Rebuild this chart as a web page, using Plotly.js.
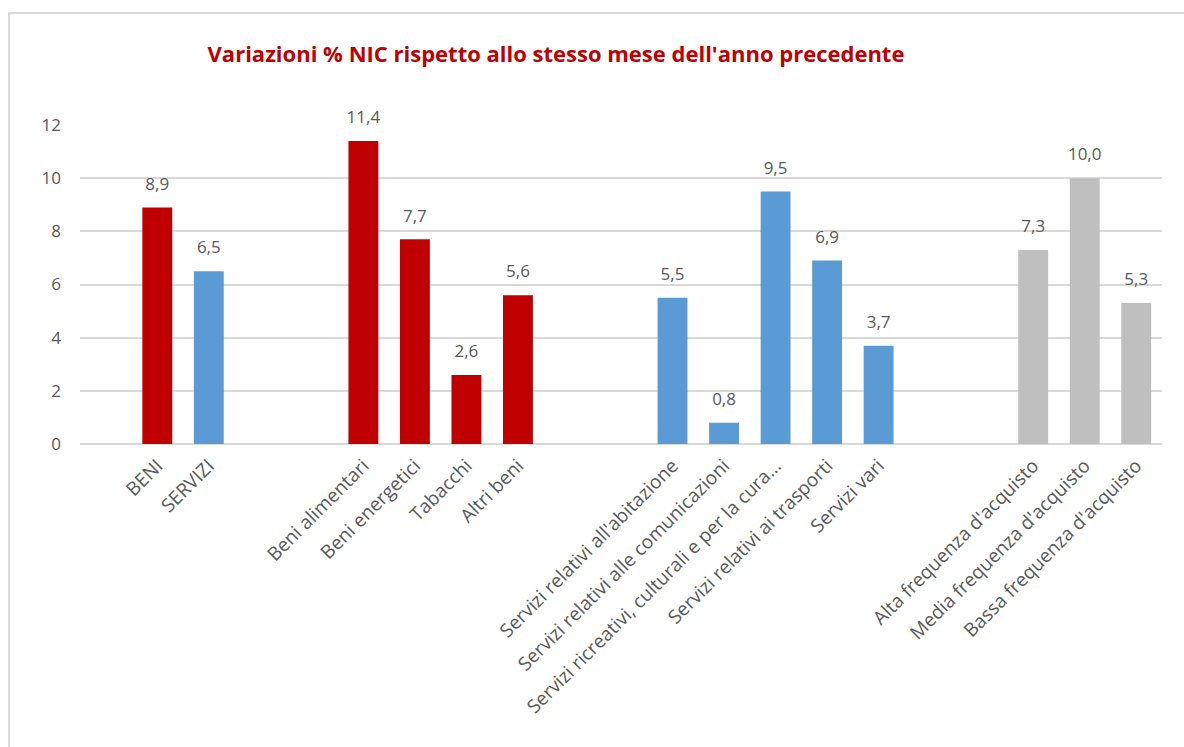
<!DOCTYPE html>
<html>
<head>
<meta charset="utf-8">
<script src="https://cdn.plot.ly/plotly-3.0.1.min.js"></script>
<style>
  html, body { margin: 0; padding: 0; background: #ffffff; }
  #chart { width: 1184px; height: 747px; }
</style>
</head>
<body>
<div id="chart"></div>
<script>
// Categories (blank strings are empty slots separating the groups)
const categories = [
  " ",
  "BENI", "SERVIZI",
  "  ", "   ",
  "Beni alimentari", "Beni energetici", "Tabacchi", "Altri beni",
  "    ", "     ",
  "Servizi relativi all'abitazione", "Servizi relativi alle comunicazioni",
  "Servizi ricreativi, culturali e per la cura…", "Servizi relativi ai trasporti", "Servizi vari",
  "      ", "       ",
  "Alta frequenza d'acquisto", "Media frequenza d'acquisto", "Bassa frequenza d'acquisto"
];
const values = [
  null,
  8.9, 6.5,
  null, null,
  11.4, 7.7, 2.6, 5.6,
  null, null,
  5.5, 0.8, 9.5, 6.9, 3.7,
  null, null,
  7.3, 10.0, 5.3
];
const groups = [
  null,
  "beni", "servizi",
  null, null,
  "beni", "beni", "beni", "beni",
  null, null,
  "servizi", "servizi", "servizi", "servizi", "servizi",
  null, null,
  "frequenza", "frequenza", "frequenza"
];
const titleText = "Variazioni % NIC rispetto allo stesso mese dell'anno precedente";
const yTicks = [0, 2, 4, 6, 8, 10, 12];

const groupColors = { beni: "#C00000", servizi: "#5B9BD5", frequenza: "#BFBFBF" };
const barColors = groups.map(g => g ? groupColors[g] : "rgba(0,0,0,0)");

const W = 1184, H = 747;
const plotL = 80, plotR = 1162, plotT = 125, plotB = 444;
const font = "'Open Sans', 'Noto Sans', sans-serif";
const textColor = "#595959";

const barTrace = {
  type: "bar",
  x: categories,
  y: values,
  marker: { color: barColors, line: { width: 0 } },
  width: 0.58,
  hoverinfo: "x+y",
  showlegend: false
};

const labelTrace = {
  type: "scatter",
  mode: "markers+text",
  x: categories,
  y: values,
  text: values.map(v => v === null ? "" : v.toFixed(1).replace(".", ",")),
  textposition: "top center",
  textfont: { family: font, size: 17, color: textColor },
  marker: { size: 20, opacity: 0 },
  hoverinfo: "skip",
  showlegend: false,
  cliponaxis: false
};

// outer chart border (converted from pixels to paper coordinates)
const pw = plotR - plotL, ph = plotB - plotT;
const px = x => (x - plotL) / pw;
const py = y => (plotB - y) / ph;

const layout = {
  width: W, height: H,
  margin: { l: plotL, r: W - plotR, t: plotT, b: H - plotB },
  paper_bgcolor: "#ffffff",
  plot_bgcolor: "#ffffff",
  separators: ",.",
  font: { family: font, size: 17, color: textColor },
  title: {
    text: titleText,
    font: { family: font, size: 22, color: "#C00000", weight: "bold" },
    xref: "container", yref: "container",
    x: 556 / W, xanchor: "center",
    y: 1 - 54 / H, yanchor: "middle"
  },
  xaxis: {
    type: "category",
    categoryorder: "array",
    categoryarray: categories,
    range: [-0.5, categories.length - 0.5],
    tickangle: -45,
    tickfont: { family: font, size: 19, color: textColor },
    showgrid: false,
    showline: false,
    zeroline: false,
    ticks: "",
    ticklabelstandoff: 6,
    fixedrange: true
  },
  yaxis: {
    range: [0, 12],
    tickvals: yTicks,
    ticktext: yTicks.map(String),
    tickfont: { family: font, size: 17, color: textColor },
    showgrid: true,
    gridcolor: "#D9D9D9",
    gridwidth: 1.5,
    zeroline: true,
    zerolinecolor: "#D9D9D9",
    zerolinewidth: 1.5,
    showline: false,
    ticks: "",
    ticklabelstandoff: 18,
    fixedrange: true
  },
  shapes: [{
    type: "rect", xref: "paper", yref: "paper",
    x0: px(9), x1: px(W + 20), y0: py(H + 20), y1: py(13),
    line: { color: "#D9D9D9", width: 2 },
    fillcolor: "rgba(0,0,0,0)",
    layer: "below"
  }],
  bargap: 0.42
};

Plotly.newPlot("chart", [barTrace, labelTrace], layout, { displayModeBar: false, staticPlot: false });
</script>
</body>
</html>
